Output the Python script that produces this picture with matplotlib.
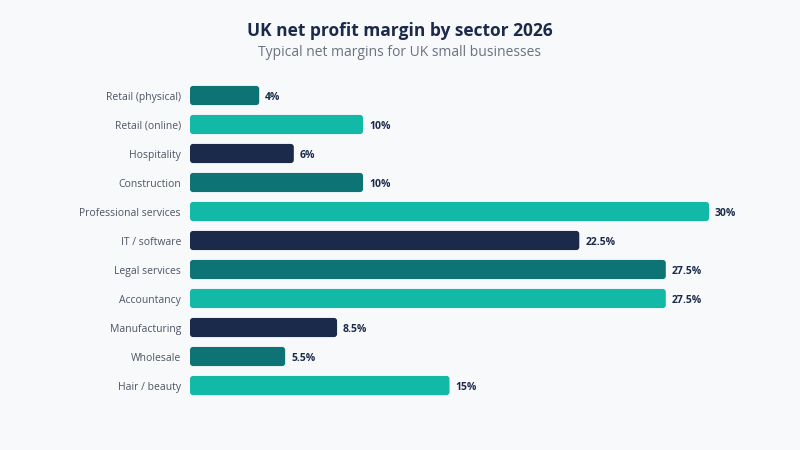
import matplotlib
matplotlib.use("Agg")
import matplotlib.pyplot as plt
from matplotlib.patches import FancyBboxPatch

categories = ["Retail (physical)", "Retail (online)", "Hospitality", "Construction",
              "Professional services", "IT / software", "Legal services", "Accountancy",
              "Manufacturing", "Wholesale", "Hair / beauty"]
values = [4, 10, 6, 10, 30, 22.5, 27.5, 27.5, 8.5, 5.5, 15]
labels = ["4%", "10%", "6%", "10%", "30%", "22.5%", "27.5%", "27.5%", "8.5%", "5.5%", "15%"]

DARK_TEAL = "#0e7374"
TEAL = "#13b9a7"
NAVY = "#1b2a4a"
palette = [DARK_TEAL, TEAL, NAVY]
colors = [palette[i % 3] for i in range(len(values))]

BG = "#f8f9fb"
plt.rcParams['font.family'] = ['Open Sans', 'DejaVu Sans']

fig = plt.figure(figsize=(8, 4.5), dpi=100, facecolor=BG)
ax = fig.add_axes([0.2375, 0.1111, 0.7137, 0.7089], facecolor=BG)

xmax = 33
ax.set_xlim(0, xmax)
ax.set_ylim(len(values) - 0.5, -0.5)

bar_h = 0.66
px_x = 0.7137 * 800 / xmax
px_y = 0.7089 * 450 / len(values)
aspect = px_x / px_y
r = 3.0 / px_x
for i, (v, c) in enumerate(zip(values, colors)):
    p = FancyBboxPatch((0, i - bar_h / 2), v, bar_h,
                       boxstyle=f"round,pad=0,rounding_size={r}",
                       mutation_aspect=aspect, facecolor=c, edgecolor="none")
    ax.add_patch(p)
    ax.text(v + 6 / px_x, i, labels[i], va="center_baseline", ha="left",
            fontsize=7.5, fontweight="bold", color=NAVY)

ax.set_yticks(range(len(categories)))
ax.set_yticklabels(categories, fontsize=7.5, color="#4b5563")
ax.tick_params(axis="y", length=0, pad=6.5)
ax.set_xticks([])
for s in ax.spines.values():
    s.set_visible(False)

fig.text(0.5, 1 - 31 / 450, "UK net profit margin by sector 2026", ha="center", va="center",
         fontsize=12.5, fontweight="bold", color=NAVY)
fig.text(0.5, 1 - 52 / 450, "Typical net margins for UK small businesses", ha="center", va="center",
         fontsize=10, color="#6b7280")

fig.savefig("out.png", dpi=100, facecolor=BG)
